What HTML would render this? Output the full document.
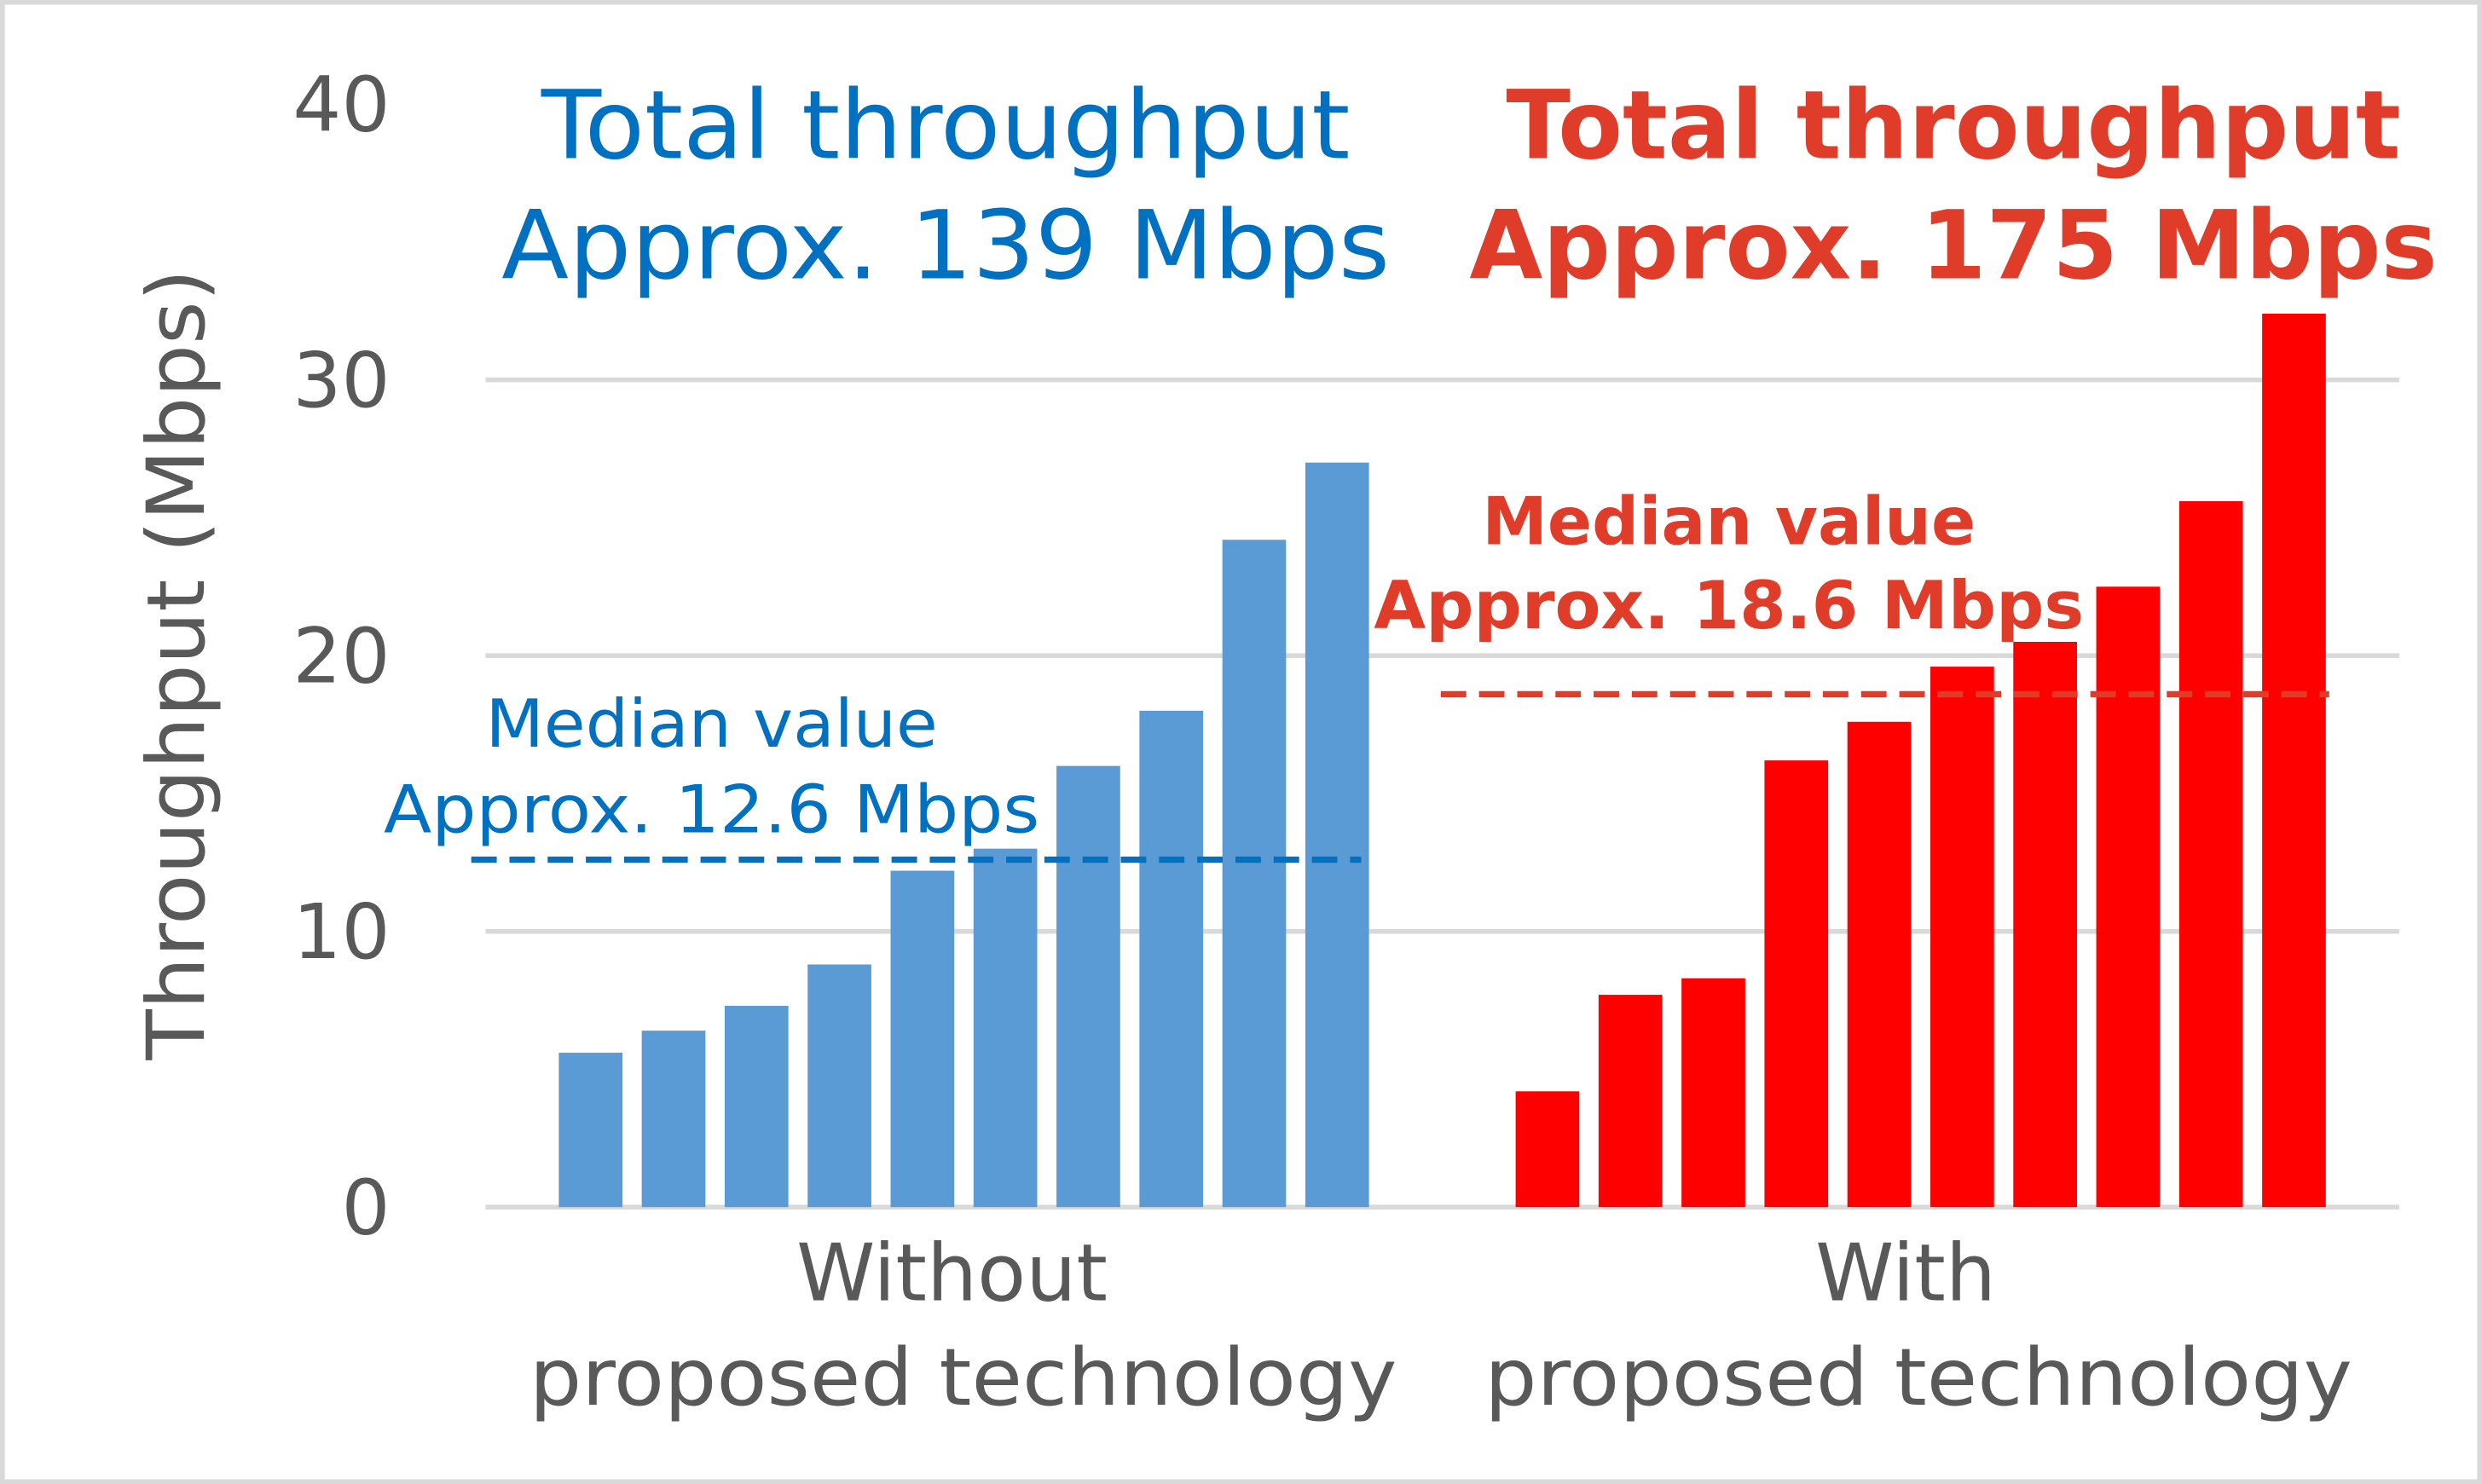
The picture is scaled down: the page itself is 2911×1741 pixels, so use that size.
<!DOCTYPE html>
<html><head><meta charset="utf-8">
<style>
html,body{margin:0;padding:0;background:#fff;}
svg{display:block;}
text{font-family:"DejaVu Sans","Liberation Sans",sans-serif;}
</style></head>
<body>
<svg id="chart" width="2911" height="1741" viewBox="0 0 1559 938" preserveAspectRatio="none" xmlns="http://www.w3.org/2000/svg">
<rect x="1.5" y="1.5" width="1556" height="935" fill="#fff" stroke="#d9d9d9" stroke-width="3"/>
<g id="grid"></g>
<g id="bars"></g>
<g id="ticks"></g>
<text transform="translate(128,420) rotate(-90)" text-anchor="middle" font-size="50" fill="#595959" textLength="500" lengthAdjust="spacingAndGlyphs">Throughput (Mbps)</text>
<text x="598" y="822" text-anchor="middle" font-size="50" fill="#595959">Without</text>
<text x="605" y="888" text-anchor="middle" font-size="50" fill="#595959" textLength="545" lengthAdjust="spacingAndGlyphs">proposed technology</text>
<text x="1197" y="822" text-anchor="middle" font-size="50" fill="#595959">With</text>
<text x="1205" y="888" text-anchor="middle" font-size="50" fill="#595959" textLength="545" lengthAdjust="spacingAndGlyphs">proposed technology</text>
<text x="594" y="100" text-anchor="middle" font-size="60" fill="#0070C0" textLength="508" lengthAdjust="spacingAndGlyphs">Total throughput</text>
<text x="594" y="176" text-anchor="middle" font-size="60" fill="#0070C0" textLength="558" lengthAdjust="spacingAndGlyphs">Approx. 139 Mbps</text>
<text x="1227" y="100" text-anchor="middle" font-size="60" font-weight="bold" fill="#E03C2A" textLength="562" lengthAdjust="spacingAndGlyphs">Total throughput</text>
<text x="1227" y="176" text-anchor="middle" font-size="60" font-weight="bold" fill="#E03C2A" textLength="608" lengthAdjust="spacingAndGlyphs">Approx. 175 Mbps</text>
<text x="447" y="472" text-anchor="middle" font-size="42" fill="#0070C0" textLength="284" lengthAdjust="spacingAndGlyphs">Median value</text>
<text x="447" y="526" text-anchor="middle" font-size="42" fill="#0070C0" textLength="412" lengthAdjust="spacingAndGlyphs">Approx. 12.6 Mbps</text>
<text x="1086" y="344" text-anchor="middle" font-size="42" font-weight="bold" fill="#E03C2A" textLength="310" lengthAdjust="spacingAndGlyphs">Median value</text>
<text x="1086" y="397" text-anchor="middle" font-size="42" font-weight="bold" fill="#E03C2A" textLength="446" lengthAdjust="spacingAndGlyphs">Approx. 18.6 Mbps</text>
<g id="medians"></g>
</svg>
<script>
const yTicks = [0, 10, 20, 30, 40];
const withoutValues = [5.6, 6.4, 7.3, 8.8, 12.2, 13.0, 16.0, 18.0, 24.2, 27.0];
const withValues = [4.2, 7.7, 8.3, 16.2, 17.6, 19.6, 20.5, 22.5, 25.6, 32.4];
const medianWithout = [12.6];
const medianWith = [18.6];

const NS = "http://www.w3.org/2000/svg";
const y0 = 763, pxPerUnit = 17.43;
function yScale(v){ return y0 - v * pxPerUnit; }
function xWithout(i){ return 351 + i * 52.1; }
function xWith(i){ return 952 + i * 52.1; }
const barW = 40;

const grid = document.getElementById('grid');
const ticks = document.getElementById('ticks');
yTicks.forEach(t => {
  const l = document.createElementNS(NS, 'line');
  
  
  l.setAttribute('x1', 305); l.setAttribute('x2', 1507);
  l.setAttribute('y1', yScale(t)); l.setAttribute('y2', yScale(t));
  l.setAttribute('stroke', '#d9d9d9'); l.setAttribute('stroke-width', 3);
  if (t !== 40) grid.appendChild(l);
  const tx = document.createElementNS(NS, 'text');
  
  
  tx.setAttribute('x', 245); tx.setAttribute('y', yScale(t) + 17);
  tx.setAttribute('text-anchor', 'end'); tx.setAttribute('font-size', '48');
  tx.setAttribute('fill', '#595959');
  tx.textContent = t;
  ticks.appendChild(tx);
});

const bars = document.getElementById('bars');
function drawBars(vals, xf, color, prefix){
  vals.forEach((v, i) => {
    const r = document.createElementNS(NS, 'rect');
    
    
    r.setAttribute('x', xf(i)); r.setAttribute('width', barW);
    r.setAttribute('y', yScale(v)); r.setAttribute('height', yScale(0) - yScale(v));
    r.setAttribute('fill', color);
    bars.appendChild(r);
  });
}
drawBars(withoutValues, xWithout, '#5B9BD5', 'without');
drawBars(withValues, xWith, '#FF0000', 'with');

const med = document.getElementById('medians');
function drawMedian(v, x1, x2, color, name){
  const l = document.createElementNS(NS, 'line');
  
  
  l.setAttribute('x1', x1); l.setAttribute('x2', x2);
  l.setAttribute('y1', yScale(v)); l.setAttribute('y2', yScale(v));
  l.setAttribute('stroke', color); l.setAttribute('stroke-width', 4);
  l.setAttribute('stroke-dasharray', '16 8');
  med.appendChild(l);
}
drawMedian(medianWithout[0], 296, 855, '#0070C0', 'median-line-without');
drawMedian(medianWith[0], 905, 1463, '#E03C2A', 'median-line-with');
</script>
</body></html>
